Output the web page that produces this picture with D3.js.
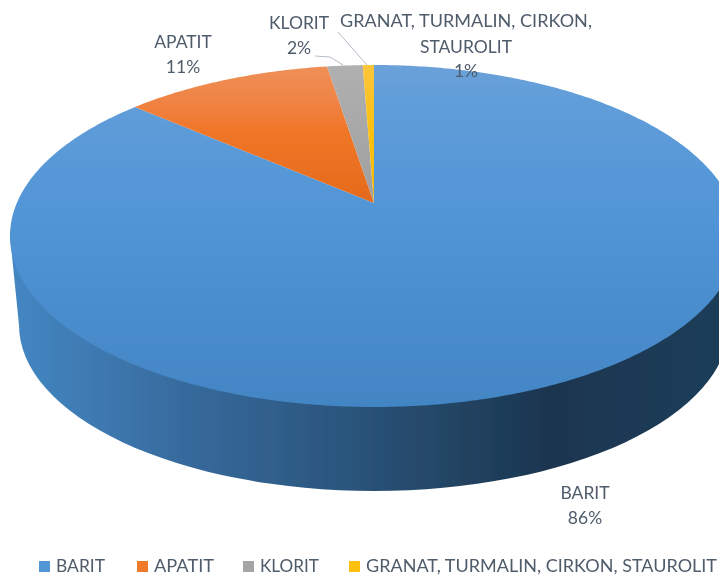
<!DOCTYPE html>
<html><head><meta charset="utf-8">
<script src="https://cdn.jsdelivr.net/npm/d3@7"></script>
<style>html,body{margin:0;padding:0;background:#fff;overflow:hidden}svg{display:block}text{font-family:Lato,"Open Sans",sans-serif;fill:#4f5b6b}</style>
</head><body><svg id="c" width="719" height="577"></svg>
<script>
const categories = ["BARIT","APATIT","KLORIT","GRANAT, TURMALIN, CIRKON, STAUROLIT"];
const values = [86.4,11.1,1.9,0.6];
const colors = ["#5296d6","#ef7a2c","#a5a5a5","#fcc010"];
const pctFormat = v => d3.format(".0f")(v) + "%";

const svg = d3.select("#c");
const defs = svg.append("defs");
const cx = 374, cy = 236, rx = 364, ry = 171, persp = 0.193;
const botCy = 325, botRx = 355, botRy = 166;

function vGrad(id, stops){
  const g = defs.append("linearGradient").attr("id",id).attr("gradientUnits","userSpaceOnUse")
    .attr("x1",0).attr("x2",0).attr("y1",65).attr("y2",407);
  stops.forEach(s=>g.append("stop").attr("offset",s[0]).attr("stop-color",s[1]));
}
vGrad("g0",[[0,"#6ba1da"],[0.12,"#5f9dd9"],[0.45,"#5195d6"],[1,"#4385c4"]]);
vGrad("g1",[[0,"#ee9058"],[0.1,"#ef8446"],[0.2,"#f07526"],[0.4,"#e56a1c"]]);
vGrad("g2",[[0,"#b0b0b0"],[0.4,"#9f9f9f"]]);
vGrad("g3",[[0,"#fdc53c"],[0.2,"#fcc010"],[0.4,"#f5b800"]]);

const wg = defs.append("linearGradient").attr("id","wall").attr("gradientUnits","userSpaceOnUse")
  .attr("x1",10).attr("x2",719).attr("y1",0).attr("y2",0);
[[0,"#4487c3"],[0.1,"#3f7cb4"],[0.25,"#366a9c"],[0.45,"#2c5780"],[0.62,"#234564"],[0.76,"#1b3550"],[1,"#1f3d59"]]
  .forEach(s=>wg.append("stop").attr("offset",s[0]).attr("stop-color",s[1]));
defs.append("filter").attr("id","soft").attr("x","-5%").attr("y","-5%").attr("width","110%").attr("height","110%")
  .append("feGaussianBlur").attr("stdDeviation",0.5);
const tf = defs.append("filter").attr("id","softT");
tf.append("feGaussianBlur").attr("stdDeviation",0.3);

const chart = svg.append("g").attr("filter","url(#soft)");

// side wall
chart.append("path").attr("fill","url(#wall)")
  .attr("d",`M${cx-rx},${cy}L${cx-botRx},${botCy}A${botRx},${botRy} 0 0 0 ${cx+botRx},${botCy}L${cx+rx},${cy}Z`);

// perspective projection of the unit disc on to the top ellipse
const xScale = Math.sqrt(1-persp*persp);
function project(theta){
  const u = Math.sin(theta), v = Math.cos(theta), w = 1 + persp*v;
  return [cx + rx*xScale*u/w, cy - ry*(v+persp)/w];
}
const apex = [cx, cy - ry*persp];
const pie = d3.pie().sort(null).value(d=>d)(values);
const line = d3.line();
chart.selectAll("path.slice").data(pie).join("path").attr("class","slice")
  .attr("fill",(d,i)=>`url(#g${i})`)
  .attr("d",d=>{
    const n = Math.max(4,Math.ceil((d.endAngle-d.startAngle)*90));
    const pts = d3.range(n+1).map(k=>project(d.startAngle+(d.endAngle-d.startAngle)*k/n));
    return line([apex,...pts])+"Z";
  });

// leader lines
const leaders = [[[315,56],[330,57],[343,65]],[[338,32],[367,65]]];
const lg = svg.append("g").attr("filter","url(#softT)");
lg.selectAll("path").data(leaders).join("path").attr("d",line).attr("fill","none")
  .attr("stroke","#b4bcc6").attr("stroke-width",1);

// data labels
const tg = svg.append("g").attr("filter","url(#softT)");
const fs = 17.5;
function lab(x,y,t,len){
  const e = tg.append("text").attr("x",x).attr("y",y).attr("text-anchor","middle").attr("font-size",fs).text(t);
  if(len) e.attr("textLength",len).attr("lengthAdjust","spacingAndGlyphs");
}
lab(585,499,categories[0]); lab(585,524,pctFormat(values[0]));
lab(183,48,categories[1]);  lab(183,73,pctFormat(values[1]));
lab(299,29,categories[2]);  lab(299,54,pctFormat(values[2]));
lab(466,27,"GRANAT, TURMALIN, CIRKON,",252); lab(466,53,"STAUROLIT"); lab(466,77,pctFormat(values[3]));

// legend
const legX = [39,137,243,349], legLen = [49,60,59,351];
categories.forEach((c,i)=>{
  tg.append("rect").attr("x",legX[i]).attr("y",561).attr("width",11).attr("height",11).attr("fill",colors[i]);
  tg.append("text").attr("x",legX[i]+17).attr("y",572).attr("font-size",fs).text(c)
    .attr("textLength",legLen[i]).attr("lengthAdjust","spacingAndGlyphs");
});
</script></body></html>
